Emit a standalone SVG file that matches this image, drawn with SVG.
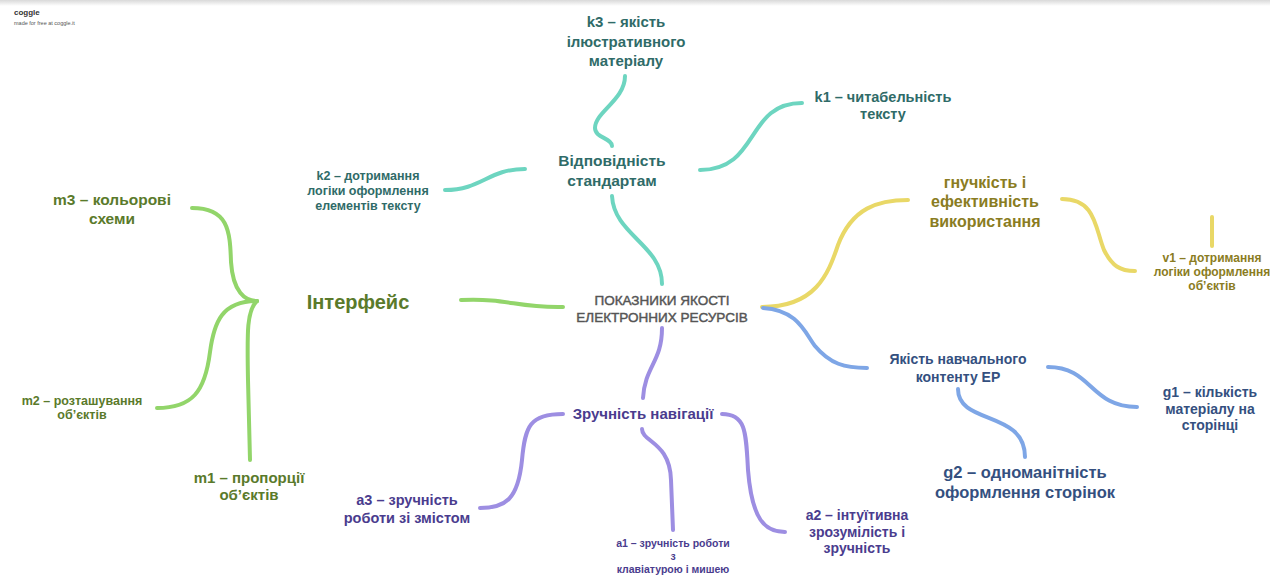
<svg xmlns="http://www.w3.org/2000/svg" width="1270" height="585" viewBox="0 0 1270 585">
  <defs>
    <linearGradient id="topShade" x1="0" y1="0" x2="0" y2="1">
      <stop offset="0" stop-color="#d9d9d9"/>
      <stop offset="1" stop-color="#ffffff"/>
    </linearGradient>
  </defs>
  <style>
    text { font-family: "Liberation Sans", Arial, sans-serif; font-weight: bold; text-anchor: middle; }
    .link { fill: none; stroke-width: 4; stroke-linecap: round; stroke-linejoin: round; }
    .teal { stroke: #6dd5c0; }
    .green { stroke: #92d56a; }
    .yellow { stroke: #e9d867; }
    .blue { stroke: #7ea6e6; }
    .purple { stroke: #9d8ee2; }
    .t-teal { fill: #2f6b68; }
    .t-green { fill: #5a7a2b; }
    .t-yellow { fill: #8a7c22; }
    .t-blue { fill: #34507f; }
    .t-purple { fill: #4a3c8e; }
    .t-root { fill: #555555; font-weight: normal; stroke: #555555; stroke-width: 0.45px; }
  </style>

  <rect x="0" y="0" width="1270" height="585" fill="#ffffff"/>
  <rect x="0" y="0" width="1270" height="6" fill="url(#topShade)"/>

  <!-- watermark -->
  <g id="watermark">
    <text x="14" y="15" style="text-anchor:start;font-size:8px;fill:#333;font-weight:bold">coggle</text>
    <text x="14" y="25" style="text-anchor:start;font-size:5.5px;fill:#555;font-weight:normal">made for free at coggle.it</text>
  </g>

  <!-- branches -->
  <g id="connectors">
    <!-- teal: standards -->
    <path class="link teal" d="M662,284 C662,245 614,235 612,196"/>
    <path class="link teal" d="M612,146 C612,138 595,138 595,128 C595,112 625,100 625,76"/>
    <path class="link teal" d="M700,170 C760,170 745,103 802,103"/>
    <path class="link teal" d="M525,169 C488,169 482,190 445,190"/>
    <!-- green: interface -->
    <path class="link green" d="M461,300 C510,298 515,308 563,307"/>
    <path class="link green" d="M192,208 C228,208 230,230 231,262 C233,292 245,301 257,301"/>
    <path class="link green" d="M257,301 C222,301 214,322 210,352 C205,392 192,408 157,408"/>
    <path class="link green" d="M257,301 C247,310 247,330 248,380 L250,460"/>
    <!-- yellow: flexibility -->
    <path class="link yellow" d="M762,307 C815,307 828,275 838,245 C852,208 878,200 908,200"/>
    <path class="link yellow" d="M1062,199 C1096,199 1095,228 1104,250 C1112,266 1120,271 1135,271"/>
    <path class="link yellow" d="M1212,217 L1212,246"/>
    <!-- blue: content quality -->
    <path class="link blue" d="M763,308 C798,310 805,333 815,346 C830,364 845,368 867,368"/>
    <path class="link blue" d="M1048,367 C1092,367 1090,407 1137,407"/>
    <path class="link blue" d="M958,389 C958,425 1025,410 1025,457"/>
    <!-- purple: navigation -->
    <path class="link purple" d="M662,328 C662,362 645,366 643,398"/>
    <path class="link purple" d="M563,414 C530,414 525,426 522,460 C518,500 505,508 480,508"/>
    <path class="link purple" d="M642,429 C642,442 670,442 671,480 L673,530"/>
    <path class="link purple" d="M722,414 C746,414 746,432 748,470 C752,520 765,532 785,532"/>
  </g>

  <!-- root -->
  <g id="root">
    <text class="t-root" x="662" y="305" style="font-size:13.5px">ПОКАЗНИКИ ЯКОСТІ</text>
    <text class="t-root" x="662" y="322" style="font-size:13.5px">ЕЛЕКТРОННИХ РЕСУРСІВ</text>
  </g>

  <!-- standards -->
  <g id="standards">
    <text class="t-teal" x="612" y="166" style="font-size:15.5px">Відповідність</text>
    <text class="t-teal" x="612" y="186" style="font-size:15.5px">стандартам</text>
  </g>
  <g id="k3">
    <text class="t-teal" x="626" y="27" style="font-size:15px">k3 – якість</text>
    <text class="t-teal" x="626" y="47" style="font-size:15px">ілюстративного</text>
    <text class="t-teal" x="626" y="66" style="font-size:15px">матеріалу</text>
  </g>
  <g id="k1">
    <text class="t-teal" x="883" y="102" style="font-size:14.5px">k1 – читабельність</text>
    <text class="t-teal" x="883" y="119" style="font-size:14.5px">тексту</text>
  </g>
  <g id="k2">
    <text class="t-teal" x="368" y="180" style="font-size:12.5px">k2 – дотримання</text>
    <text class="t-teal" x="368" y="195" style="font-size:12.5px">логіки оформлення</text>
    <text class="t-teal" x="368" y="210" style="font-size:12.5px">елементів тексту</text>
  </g>

  <!-- interface -->
  <g id="interface">
    <text class="t-green" x="358" y="309" style="font-size:20px">Інтерфейс</text>
  </g>
  <g id="m3">
    <text class="t-green" x="112" y="205" style="font-size:15.5px">m3 – кольорові</text>
    <text class="t-green" x="112" y="224" style="font-size:15.5px">схеми</text>
  </g>
  <g id="m2">
    <text class="t-green" x="82" y="405" style="font-size:12.5px">m2 – розташування</text>
    <text class="t-green" x="82" y="419" style="font-size:12.5px">об’єктів</text>
  </g>
  <g id="m1">
    <text class="t-green" x="249" y="483" style="font-size:15px">m1 – пропорції</text>
    <text class="t-green" x="249" y="500" style="font-size:15px">об’єктів</text>
  </g>

  <!-- flexibility -->
  <g id="flexibility">
    <text class="t-yellow" x="985" y="188" style="font-size:16px">гнучкість і</text>
    <text class="t-yellow" x="985" y="207" style="font-size:16px">ефективність</text>
    <text class="t-yellow" x="985" y="227" style="font-size:16px">використання</text>
  </g>
  <g id="v1">
    <text class="t-yellow" x="1212" y="262" style="font-size:12px">v1 – дотримання</text>
    <text class="t-yellow" x="1212" y="276" style="font-size:12px">логіки оформлення</text>
    <text class="t-yellow" x="1212" y="290" style="font-size:12px">об’єктів</text>
  </g>

  <!-- content quality -->
  <g id="content">
    <text class="t-blue" x="958" y="364" style="font-size:14px">Якість навчального</text>
    <text class="t-blue" x="958" y="382" style="font-size:14px">контенту ЕР</text>
  </g>
  <g id="g1">
    <text class="t-blue" x="1210" y="397" style="font-size:14px">g1 – кількість</text>
    <text class="t-blue" x="1210" y="414" style="font-size:14px">матеріалу на</text>
    <text class="t-blue" x="1210" y="430" style="font-size:14px">сторінці</text>
  </g>
  <g id="g2">
    <text class="t-blue" x="1025" y="478" style="font-size:16.5px">g2 – одноманітність</text>
    <text class="t-blue" x="1025" y="498" style="font-size:16.5px">оформлення сторінок</text>
  </g>

  <!-- navigation -->
  <g id="navigation">
    <text class="t-purple" x="643" y="419" style="font-size:15px">Зручність навігації</text>
  </g>
  <g id="a3">
    <text class="t-purple" x="407" y="505" style="font-size:14.5px">a3 – зручність</text>
    <text class="t-purple" x="407" y="523" style="font-size:14.5px">роботи зі змістом</text>
  </g>
  <g id="a1">
    <text class="t-purple" x="673" y="547" style="font-size:10.5px">a1 – зручність роботи</text>
    <text class="t-purple" x="673" y="560" style="font-size:10.5px">з</text>
    <text class="t-purple" x="673" y="573" style="font-size:10.5px">клавіатурою і мишею</text>
  </g>
  <g id="a2">
    <text class="t-purple" x="857" y="520" style="font-size:14px">a2 – інтуїтивна</text>
    <text class="t-purple" x="857" y="537" style="font-size:14px">зрозумілість і</text>
    <text class="t-purple" x="857" y="553" style="font-size:14px">зручність</text>
  </g>
</svg>
